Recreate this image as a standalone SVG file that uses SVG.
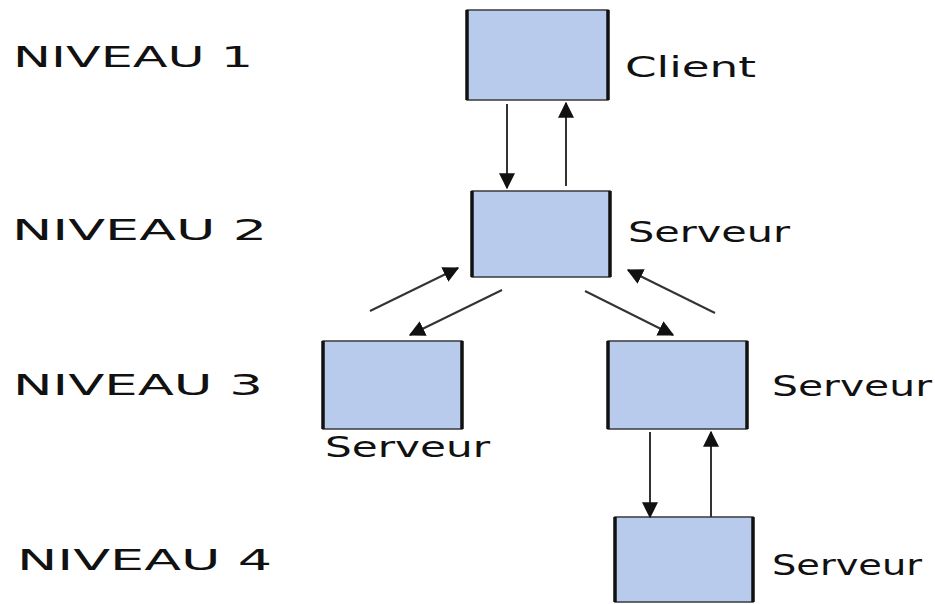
<svg xmlns="http://www.w3.org/2000/svg" width="935" height="604" viewBox="0 0 935 604">
  <style>
    .box { fill: #b9cbec; stroke: #3a3a3a; stroke-width: 1.5; }
    .side { stroke: #111; stroke-width: 3.5; }
    .lvl { font-family: "DejaVu Sans", "Liberation Sans", sans-serif; font-size: 29px; fill: #111; }
    .lbl { font-family: "DejaVu Sans", "Liberation Sans", sans-serif; font-size: 28px; fill: #111; }
    .link { stroke: #333; stroke-width: 2; fill: none; marker-end: url(#head); }
  </style>
  <defs>
    <marker id="head" viewBox="0 0 12 12" refX="11" refY="6" markerWidth="16" markerHeight="16" markerUnits="userSpaceOnUse" orient="auto">
      <path d="M0,0 L12,6 L0,12 Z" fill="#111"/>
    </marker>
  </defs>
  <rect width="935" height="604" fill="#ffffff"/>

  <!-- level labels -->
  <g id="levels">
    <text class="lvl" x="13" y="67" textLength="240" lengthAdjust="spacingAndGlyphs">NIVEAU 1</text>
    <text class="lvl" x="12" y="240" textLength="255" lengthAdjust="spacingAndGlyphs">NIVEAU 2</text>
    <text class="lvl" x="13" y="395" textLength="250" lengthAdjust="spacingAndGlyphs">NIVEAU 3</text>
    <text class="lvl" x="17" y="570" textLength="255" lengthAdjust="spacingAndGlyphs">NIVEAU 4</text>
  </g>

  <!-- level 1: client -->
  <g id="client">
    <rect class="box" x="467" y="10" width="141" height="90"/>
    <line class="side" x1="467" y1="10" x2="467" y2="100"/>
    <line class="side" x1="608" y1="10" x2="608" y2="100"/>
    <text class="lbl" x="625" y="77" textLength="131" lengthAdjust="spacingAndGlyphs">Client</text>
  </g>

  <!-- level 2: server -->
  <g id="server-2">
    <rect class="box" x="472" y="191" width="138" height="86"/>
    <line class="side" x1="472" y1="191" x2="472" y2="277"/>
    <line class="side" x1="610" y1="191" x2="610" y2="277"/>
    <text class="lbl" x="628" y="242" textLength="162" lengthAdjust="spacingAndGlyphs">Serveur</text>
  </g>

  <!-- level 3: left server -->
  <g id="server-3a">
    <rect class="box" x="323" y="341" width="139" height="88"/>
    <line class="side" x1="323" y1="341" x2="323" y2="429"/>
    <line class="side" x1="462" y1="341" x2="462" y2="429"/>
    <text class="lbl" x="325" y="457" textLength="165" lengthAdjust="spacingAndGlyphs">Serveur</text>
  </g>

  <!-- level 3: right server -->
  <g id="server-3b">
    <rect class="box" x="608" y="341" width="139" height="88"/>
    <line class="side" x1="608" y1="341" x2="608" y2="429"/>
    <line class="side" x1="747" y1="341" x2="747" y2="429"/>
    <text class="lbl" x="772" y="396" textLength="160" lengthAdjust="spacingAndGlyphs">Serveur</text>
  </g>

  <!-- level 4: server -->
  <g id="server-4">
    <rect class="box" x="615" y="517" width="138" height="85"/>
    <line class="side" x1="615" y1="517" x2="615" y2="602"/>
    <line class="side" x1="753" y1="517" x2="753" y2="602"/>
    <text class="lbl" x="772" y="575" textLength="150" lengthAdjust="spacingAndGlyphs">Serveur</text>
  </g>

  <!-- connectors -->
  <g id="connectors">
    <line class="link" x1="507" y1="104" x2="507" y2="188"/>
    <line class="link" x1="566" y1="186" x2="566" y2="103"/>
    <line class="link" x1="370" y1="311" x2="458" y2="268"/>
    <line class="link" x1="502" y1="290" x2="410" y2="335"/>
    <line class="link" x1="585" y1="291" x2="673" y2="335"/>
    <line class="link" x1="715" y1="313" x2="628" y2="270"/>
    <line class="link" x1="650" y1="432" x2="650" y2="517"/>
    <line class="link" x1="711" y1="517" x2="711" y2="432"/>
  </g>
</svg>
